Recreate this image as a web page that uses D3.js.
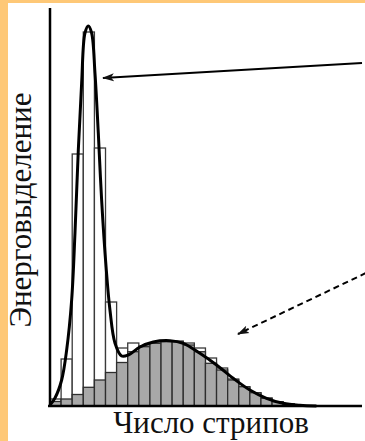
<!DOCTYPE html>
<html>
<head>
<meta charset="utf-8">
<script src="https://cdn.jsdelivr.net/npm/d3@7"></script>
<style>
  html, body { margin: 0; padding: 0; background: #fec877; }
  svg { display: block; }
</style>
</head>
<body>
<div id="chart"></div>
<script>
// bins of the histogram (strip count), heights in arbitrary energy units
const bins = d3.range(22)
const openBars = [7, 47, 252, 374, 258, 104, 58, 63, 60, 63, 65, 65, 63, 58, 48, 38, 27, 19, 13, 8, 4, 2]
const greyBars = [4.5, 7, 11.5, 18.7, 26, 33.5, 43.5, 54.3, 59.3, 62.7, 64.3, 64.3, 61, 54.3, 42.7, 36, 26, 19.3, 13.3, 7.7, 4.3, 2]

// fitted curve, x in bin units
const curveX = [0, 0.45, 1.05, 1.5, 1.95, 2.25, 2.55, 2.85, 3.15, 3.45, 3.75, 4.05, 4.35, 4.65, 5.05, 5.4, 5.85, 6.45, 7.05, 8.1, 9.3, 10.8, 12, 13.5, 15, 16.5, 18, 19.5, 21, 22.5, 24]
const curveY = [1, 8, 26, 56, 106, 173, 256, 323, 373, 380, 373, 333, 273, 206, 139, 96, 63, 50, 51, 59, 64, 65.3, 62.7, 52.7, 41, 27.7, 16, 7.7, 2.7, 0.7, 0]

const xLabel = "Число стрипов"
const yLabel = "Энерговыделение"

const W = 365, H = 441
const svg = d3.select("#chart").append("svg")
    .attr("width", W)
    .attr("height", H)

// white panel inside the orange frame
svg.append("rect")
    .attr("x", 8).attr("y", 3)
    .attr("width", W - 8).attr("height", H - 3)
    .attr("fill", "#ffffff")

const x = d3.scaleLinear().domain([0, 28.1]).range([50, 362])
const y = d3.scaleLinear().domain([0, 400]).range([406, 6])
const bw = x(1) - x(0)

svg.append("defs").append("marker")
    .attr("id", "head")
    .attr("viewBox", "0 0 12 10")
    .attr("refX", 11).attr("refY", 5)
    .attr("markerWidth", 12).attr("markerHeight", 10)
    .attr("markerUnits", "userSpaceOnUse")
    .attr("orient", "auto")
    .append("path")
    .attr("d", "M0,1 L12,5 L0,9 L3,5 Z")
    .attr("fill", "#111")

// open (white) bars
svg.append("g").selectAll("rect")
    .data(bins)
    .enter()
    .append("rect")
    .attr("x", i => x(i))
    .attr("y", i => y(openBars[i]))
    .attr("width", bw)
    .attr("height", i => y(0) - y(openBars[i]))
    .attr("fill", "#fff")
    .attr("stroke", "#3a3a3a")
    .attr("stroke-width", 1.3)

// grey bars on top
svg.append("g").selectAll("rect")
    .data(bins)
    .enter()
    .append("rect")
    .attr("x", i => x(i))
    .attr("y", i => y(greyBars[i]))
    .attr("width", bw)
    .attr("height", i => y(0) - y(greyBars[i]))
    .attr("fill", "#a8a8a8")
    .attr("stroke", "#2e2e2e")
    .attr("stroke-width", 1.3)

// fitted curve
const line = d3.line()
    .x(d => x(d[0]))
    .y(d => y(d[1]))
    .curve(d3.curveCatmullRom.alpha(0.5))

svg.append("path")
    .datum(d3.zip(curveX, curveY))
    .attr("d", line)
    .attr("fill", "none")
    .attr("stroke", "#000")
    .attr("stroke-width", 3)

// axes (plain lines, no ticks)
svg.append("line")
    .attr("x1", 50).attr("x2", 50)
    .attr("y1", y(398)).attr("y2", y(0) + 1)
    .attr("stroke", "#000").attr("stroke-width", 2.5)
svg.append("line")
    .attr("x1", 48).attr("x2", x(28.1))
    .attr("y1", y(0)).attr("y2", y(0))
    .attr("stroke", "#000").attr("stroke-width", 2.5)

// arrows pointing at the curves
svg.append("line")
    .attr("x1", 362).attr("y1", 63)
    .attr("x2", 103).attr("y2", 78)
    .attr("stroke", "#000").attr("stroke-width", 2)
    .attr("marker-end", "url(#head)")

svg.append("line")
    .attr("x1", 366).attr("y1", 273)
    .attr("x2", 238).attr("y2", 334)
    .attr("stroke", "#000").attr("stroke-width", 2)
    .attr("stroke-dasharray", "6,4")
    .attr("marker-end", "url(#head)")

// labels
svg.append("text")
    .attr("x", 211).attr("y", 433)
    .attr("text-anchor", "middle")
    .attr("font-family", "Liberation Serif, serif")
    .attr("font-size", 31)
    .attr("fill", "#111")
    .text(xLabel)

svg.append("text")
    .attr("transform", "translate(31,210) rotate(-90)")
    .attr("text-anchor", "middle")
    .attr("font-family", "Liberation Serif, serif")
    .attr("font-size", 31)
    .attr("fill", "#111")
    .text(yLabel)
</script>
</body>
</html>
